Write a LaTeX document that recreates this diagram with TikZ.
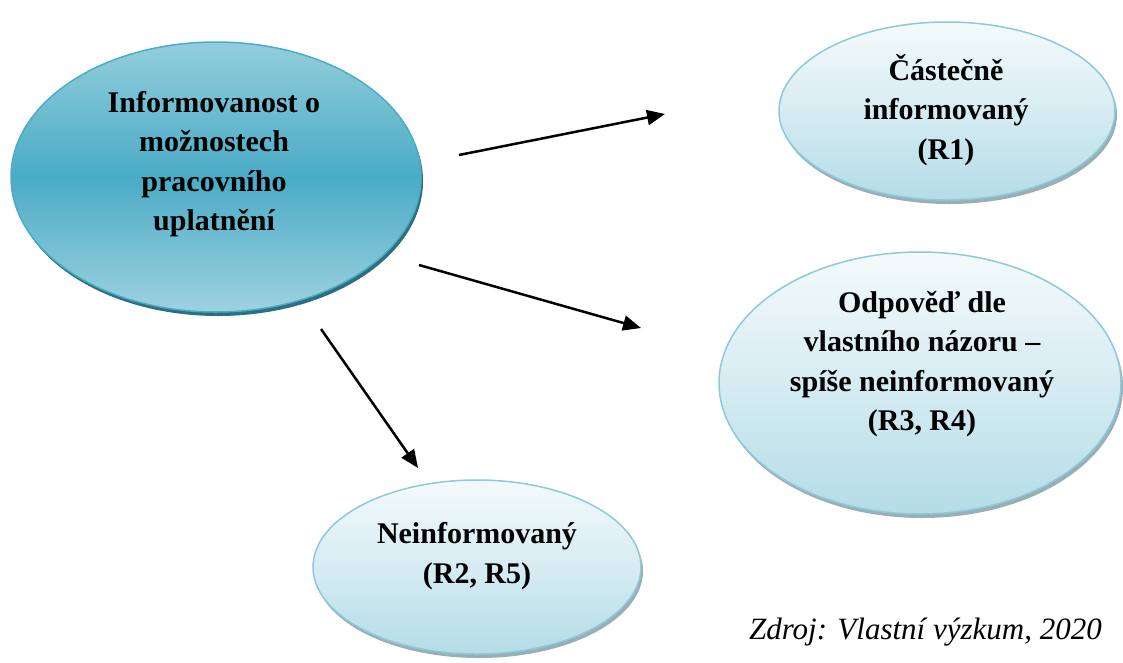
\documentclass[tikz,border=0pt]{standalone}
\usepackage{fontspec}
\setmainfont{Liberation Serif}[ItalicFont={Liberation Serif Italic},BoldFont={Liberation Serif Bold}]
\usetikzlibrary{shadows,arrows.meta,shapes.geometric}
\definecolor{mainTop}{HTML}{93CEDD}
\definecolor{mainMid}{HTML}{4AABC5}
\definecolor{mainBot}{HTML}{9ED2E0}
\definecolor{mainEdge}{HTML}{4BACC6}
\definecolor{mainShadow}{HTML}{2C6F80}
\definecolor{lightTop}{HTML}{F4FAFC}
\definecolor{lightMid}{HTML}{D6ECF2}
\definecolor{lightBot}{HTML}{B4DCE7}
\definecolor{lightEdge}{HTML}{8CCAD9}
\definecolor{lightShadow}{HTML}{8FA6AD}
\tikzset{
  mainell/.style={ellipse, draw=mainEdge, line width=1.5pt,
    top color=mainTop, bottom color=mainBot, middle color=mainMid,
    drop shadow={shadow xshift=2pt, shadow yshift=-4pt, fill=mainShadow, opacity=1}},
  lightell/.style={ellipse, draw=lightEdge, line width=1.5pt,
    top color=lightTop, bottom color=lightBot, middle color=lightMid,
    drop shadow={shadow xshift=2pt, shadow yshift=-4pt, fill=lightShadow, opacity=0.9}},
  txt/.style={align=center, font=\fontsize{30}{39.5}\selectfont\bfseries, inner sep=0pt},
  arr/.style={line width=2.5pt, -{Triangle[length=18pt,width=15pt]}}
}
\begin{document}
\begin{tikzpicture}[x=1pt,y=-1pt]
\useasboundingbox (0,0) rectangle (1123,662);
\node[mainell, minimum width=410pt, minimum height=270pt] (m) at (216,177) {};
\node[txt] (mt) at (214,164) {Informovanost o\\možnostech\\pracovního\\uplatnění};
\node[lightell, minimum width=336pt, minimum height=178pt] (r1) at (947,111) {};
\node[txt] (r1t) at (946,110) {Částečně\\informovaný\\(R1)};
\node[lightell, minimum width=402pt, minimum height=262pt] (r3) at (920,383) {};
\node[txt] (r3t) at (922,364) {Odpověď dle\\vlastního názoru –\\spíše neinformovaný\\(R3, R4)};
\node[lightell, minimum width=328pt, minimum height=174pt] (r2) at (477,567) {};
\node[txt] (r2t) at (477,556) {Neinformovaný\\(R2, R5)};
\coordinate (a1s) at (459,155);
\coordinate (a1e) at (665,114);
\coordinate (a2s) at (419,265);
\coordinate (a2e) at (641,328);
\coordinate (a3s) at (321,329);
\coordinate (a3e) at (418,468);
\draw[arr] (a1s) -- (a1e);
\draw[arr] (a2s) -- (a2e);
\draw[arr] (a3s) -- (a3e);
\node[anchor=base east, inner sep=0pt, font=\fontsize{31}{36}\selectfont\itshape] (src) at (1102,639) {Zdroj: Vlastní výzkum, 2020};
\end{tikzpicture}
\end{document}
